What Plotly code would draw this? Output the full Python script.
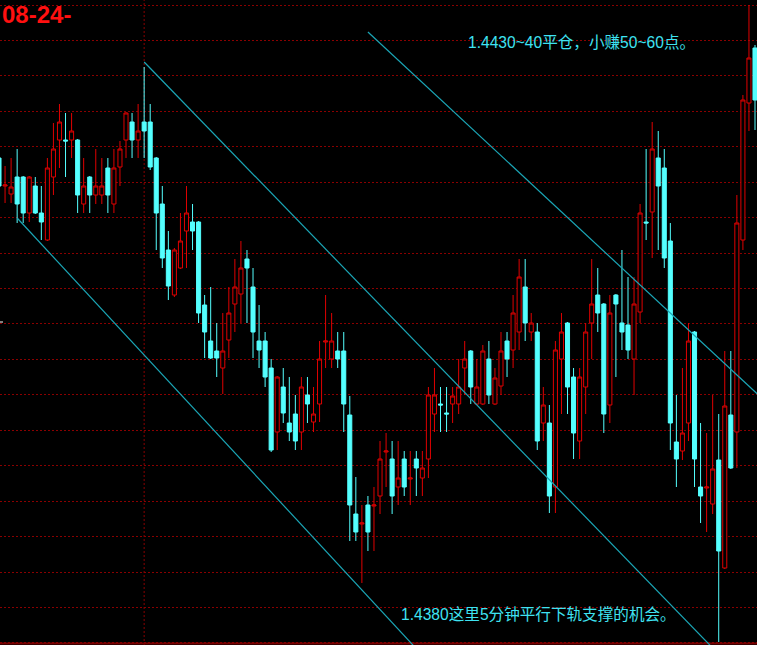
import plotly.graph_objects as go

# ---- data (prices, 5-minute candles) ----
opens = [
    1.44272, 1.44244, 1.44236, 1.44253, 1.44253, 1.44217, 1.44244, 1.44217, 1.44190, 1.44253,
    1.44290, 1.44290, 1.44290, 1.44290, 1.44226, 1.44253, 1.44235, 1.44235, 1.44262, 1.44226,
    1.44263, 1.44290, 1.44308, 1.44290, 1.44308, 1.44308, 1.44272, 1.44226, 1.44180, 1.44135,
    1.44162, 1.44199, 1.44208, 1.44208, 1.44125, 1.44089, 1.44079, 1.44062, 1.44090, 1.44126,
    1.44136, 1.44171, 1.44143, 1.44089, 1.44089, 1.44062, 1.43998, 1.44043, 1.44007, 1.44016,
    1.43998, 1.44035, 1.44008, 1.44026, 1.44088, 1.44071, 1.44079, 1.44079, 1.44015, 1.43916,
    1.43906, 1.43925, 1.43924, 1.43934, 1.43978, 1.43971, 1.43943, 1.43971, 1.43951, 1.43971,
    1.43952, 1.43971, 1.44016, 1.44026, 1.44017, 1.44026, 1.44026, 1.44062, 1.44079, 1.44026,
    1.44026, 1.44071, 1.44026, 1.44044, 1.44089, 1.44080, 1.44098, 1.44143, 1.44098, 1.44098,
    1.44007, 1.44007, 1.43943, 1.44071, 1.44107, 1.44053, 1.43989, 1.44043, 1.44107, 1.44135,
    1.44126, 1.44025, 1.44135, 1.44107, 1.44105, 1.44071, 1.44118, 1.44208, 1.44218, 1.44272,
    1.44262, 1.44189, 1.43988, 1.43979, 1.44007, 1.44098, 1.43943, 1.43942, 1.43926, 1.43970,
    1.43862, 1.44015, 1.43998, 1.44190, 1.44327, 1.44382,
]
highs = [
    1.44278, 1.44264, 1.44272, 1.44281, 1.44254, 1.44254, 1.44253, 1.44244, 1.44272, 1.44307,
    1.44326, 1.44317, 1.44317, 1.44291, 1.44272, 1.44254, 1.44281, 1.44272, 1.44272, 1.44281,
    1.44289, 1.44318, 1.44317, 1.44326, 1.44363, 1.44326, 1.44273, 1.44244, 1.44199, 1.44182,
    1.44217, 1.44244, 1.44226, 1.44209, 1.44135, 1.44143, 1.44107, 1.44117, 1.44143, 1.44171,
    1.44189, 1.44180, 1.44162, 1.44125, 1.44098, 1.44071, 1.44054, 1.44062, 1.44053, 1.44035,
    1.44053, 1.44053, 1.44043, 1.44089, 1.44135, 1.44117, 1.44098, 1.44098, 1.44034, 1.43953,
    1.43925, 1.43934, 1.43943, 1.43989, 1.43997, 1.43989, 1.43989, 1.43979, 1.43979, 1.43979,
    1.43979, 1.44043, 1.44062, 1.44043, 1.44043, 1.44043, 1.44071, 1.44089, 1.44080, 1.44071,
    1.44085, 1.44089, 1.44062, 1.44098, 1.44098, 1.44135, 1.44171, 1.44171, 1.44117, 1.44107,
    1.44043, 1.44025, 1.44089, 1.44117, 1.44108, 1.44062, 1.44062, 1.44107, 1.44171, 1.44162,
    1.44127, 1.44135, 1.44136, 1.44180, 1.44153, 1.44153, 1.44226, 1.44281, 1.44308, 1.44299,
    1.44281, 1.44207, 1.44035, 1.44062, 1.44107, 1.44099, 1.44007, 1.43997, 1.44035, 1.44016,
    1.44079, 1.44079, 1.44235, 1.44335, 1.44425, 1.44385,
]
lows = [
    1.44240, 1.44227, 1.44227, 1.44207, 1.44207, 1.44208, 1.44216, 1.44190, 1.44189, 1.44235,
    1.44262, 1.44253, 1.44272, 1.44217, 1.44217, 1.44217, 1.44226, 1.44226, 1.44217, 1.44217,
    1.44244, 1.44272, 1.44272, 1.44272, 1.44272, 1.44260, 1.44180, 1.44162, 1.44130, 1.44133,
    1.44161, 1.44162, 1.44180, 1.44107, 1.44072, 1.44071, 1.44053, 1.44036, 1.44072, 1.44098,
    1.44107, 1.44107, 1.44072, 1.44062, 1.44043, 1.43978, 1.43980, 1.44007, 1.43989, 1.43980,
    1.43980, 1.44007, 1.43998, 1.44008, 1.44062, 1.44062, 1.44062, 1.43998, 1.43889, 1.43889,
    1.43847, 1.43879, 1.43879, 1.43916, 1.43943, 1.43916, 1.43925, 1.43934, 1.43925, 1.43934,
    1.43934, 1.43952, 1.43998, 1.43998, 1.43998, 1.44007, 1.44016, 1.44035, 1.44026, 1.44025,
    1.44025, 1.44026, 1.44025, 1.44035, 1.44053, 1.44062, 1.44080, 1.44089, 1.44089, 1.43980,
    1.43989, 1.43917, 1.43917, 1.44016, 1.44016, 1.43971, 1.43971, 1.44016, 1.44071, 1.44098,
    1.43997, 1.44007, 1.44053, 1.44080, 1.44071, 1.44035, 1.44107, 1.44190, 1.44172, 1.44180,
    1.44162, 1.43980, 1.43943, 1.43970, 1.43989, 1.43943, 1.43907, 1.43898, 1.43916, 1.43788,
    1.43861, 1.43961, 1.43962, 1.44180, 1.44299, 1.44300,
]
closes = [
    1.44244, 1.44245, 1.44243, 1.44226, 1.44217, 1.44253, 1.44217, 1.44208, 1.44262, 1.44281,
    1.44308, 1.44289, 1.44299, 1.44235, 1.44244, 1.44235, 1.44244, 1.44244, 1.44235, 1.44262,
    1.44281, 1.44317, 1.44290, 1.44299, 1.44299, 1.44263, 1.44217, 1.44172, 1.44144, 1.44180,
    1.44189, 1.44217, 1.44199, 1.44117, 1.44098, 1.44072, 1.44072, 1.44079, 1.44117, 1.44143,
    1.44162, 1.44162, 1.44098, 1.44080, 1.44053, 1.43980, 1.44053, 1.44017, 1.43998, 1.43989,
    1.44043, 1.44026, 1.44016, 1.44071, 1.44089, 1.44089, 1.44071, 1.44026, 1.43925, 1.43898,
    1.43907, 1.43898, 1.43925, 1.43971, 1.43979, 1.43934, 1.43952, 1.43943, 1.43952, 1.43962,
    1.43962, 1.44035, 1.44035, 1.44025, 1.44016, 1.44034, 1.44043, 1.44071, 1.44043, 1.44043,
    1.44079, 1.44035, 1.44052, 1.44079, 1.44071, 1.44117, 1.44153, 1.44107, 1.44107, 1.43989,
    1.44025, 1.43934, 1.44080, 1.44098, 1.44043, 1.43997, 1.44053, 1.44098, 1.44126, 1.44117,
    1.44016, 1.44117, 1.44126, 1.44098, 1.44080, 1.44126, 1.44217, 1.44207, 1.44281, 1.44244,
    1.44172, 1.44007, 1.43971, 1.43997, 1.44089, 1.43971, 1.43934, 1.43943, 1.43961, 1.43879,
    1.44024, 1.43962, 1.44207, 1.44330, 1.44372, 1.44330,
]
bars = list(range(len(opens)))

# hand-drawn channel lines (bar index, price)
channel_x0 = [24, 3, 61]
channel_y0 = [1.44368, 1.44212, 1.44398]
channel_x1 = [118, 69.2, 125.4]
channel_y1 = [1.43782, 1.43780, 1.44036]

day_break_bar = 24
date_label = "08-24-"
note_top = "1.4430~40平仓，小赚50~60点。"
note_bottom = "1.4380这里5分钟平行下轨支撑的机会。"

GRID = "#8a0000"
TEAL = "#1ba6b6"
CYAN = "#54ffff"
RED = "#e00000"
TEXT_CYAN = "#3fe3f2"

fig = go.Figure(go.Candlestick(
    x=bars, open=opens, high=highs, low=lows, close=closes,
    increasing=dict(line=dict(color=RED, width=1), fillcolor="#000000"),
    decreasing=dict(line=dict(color=CYAN, width=1), fillcolor=CYAN),
    whiskerwidth=0, hoverinfo="skip", showlegend=False,
))

shapes = [
    dict(type="line", xref="x", yref="paper", x0=day_break_bar, x1=day_break_bar,
         y0=0, y1=1, layer="below", line=dict(color=GRID, width=1, dash="2px,2px")),
    dict(type="line", xref="paper", yref="paper", x0=0, x1=1, y0=0.0023, y1=0.0023,
         line=dict(color="#7a0000", width=2)),
    dict(type="line", xref="paper", yref="y", x0=0, x1=0.004, y0=1.44108, y1=1.44108,
         line=dict(color="#ffffff", width=1)),
]
for a, b, c, d in zip(channel_x0, channel_y0, channel_x1, channel_y1):
    shapes.append(dict(type="line", xref="x", yref="y", x0=a, y0=b, x1=c, y1=d,
                       line=dict(color=TEAL, width=1.2)))

fig.update_layout(
    width=757, height=645,
    margin=dict(l=0, r=0, t=0, b=0),
    paper_bgcolor="#000000", plot_bgcolor="#000000",
    showlegend=False, boxgap=0.33, boxgroupgap=0,
    xaxis=dict(range=[0.165, 125.33], showgrid=False, showticklabels=False,
               zeroline=False, ticks="", rangeslider=dict(visible=False), fixedrange=True),
    yaxis=dict(range=[1.43785, 1.44430], showgrid=True, gridcolor=GRID, gridwidth=1,
               griddash="2px,2px", tick0=1.44425, dtick=0.0003544, tickmode="linear",
               showticklabels=False, zeroline=False, ticks="", fixedrange=True),
    shapes=shapes,
    annotations=[
        dict(text="<b>%s</b>" % date_label, xref="paper", yref="paper", x=0.0, y=1.0,
             xanchor="left", yanchor="top", showarrow=False, yshift=1,
             font=dict(family="Liberation Sans, Arial", size=24, color="#ff1010")),
        dict(text=note_top, xref="paper", yref="paper", x=466 / 757, y=1 - 42 / 645,
             xanchor="left", yanchor="middle", showarrow=False,
             font=dict(family="Liberation Sans, Noto Sans CJK SC", size=15.6, color=TEXT_CYAN)),
        dict(text=note_bottom, xref="paper", yref="paper", x=399 / 757, y=1 - 614 / 645,
             xanchor="left", yanchor="middle", showarrow=False,
             font=dict(family="Liberation Sans, Noto Sans CJK SC", size=15.6, color=TEXT_CYAN)),
    ],
)

fig.write_html(
    "out.html",
    config=dict(displayModeBar=False, staticPlot=True),
    post_script="document.body.style.margin='0';document.body.style.overflow='hidden';",
)
